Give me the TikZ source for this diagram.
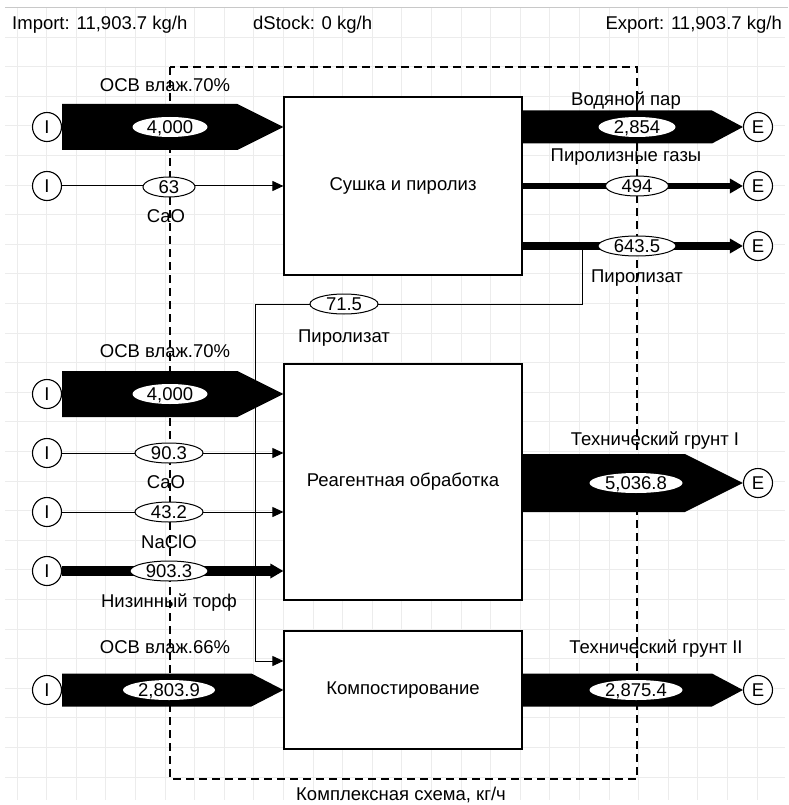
\documentclass[tikz,border=0pt]{standalone}
\usepackage{fontspec}
\setmainfont{Liberation Sans}
\usepackage{tikz}
\usetikzlibrary{arrows.meta, calc, positioning, shapes.geometric}
\definecolor{stanink}{HTML}{000000}
\definecolor{stangrid}{HTML}{ECECEC}
\definecolor{stanrule}{HTML}{C8C8C8}
\newcommand{\stanfont}{\fontsize{18.5}{22}\selectfont}
% fat flow: start point, tip point, half width, head length
\newcommand{\fatflow}[4]{%
  \fill[stanink] ($(#1)+(0,#3)$) -- ($(#2)+(-#4,#3)$) -- (#2)
    -- ($(#2)+(-#4,-#3)$) -- ($(#1)+(0,-#3)$) -- cycle;}
\tikzset{
  gridline/.style={draw=stangrid, line width=0.8pt},
  topline/.style={draw=stanrule, line width=1pt},
  systemline/.style={draw=stanink, line width=1.3pt, dash pattern=on 8pt off 5pt},
  procbox/.style={
    draw=stanink,
    fill=white,
    line width=1.2pt,
    minimum width=238pt,
    inner sep=0pt,
    font=\stanfont
  },
  portnode/.style={
    circle,
    draw=stanink,
    fill=white,
    line width=1.1pt,
    minimum size=29pt,
    inner sep=0pt,
    font=\stanfont
  },
  flowval/.style={
    ellipse,
    draw=stanink,
    fill=white,
    line width=1pt,
    inner sep=0pt,
    text height=13pt,
    text depth=0pt,
    minimum height=20pt,
    minimum width=#1,
    font=\stanfont
  },
  fatval/.style={flowval=#1, draw=none},
  flowlabel/.style={anchor=base, inner sep=0pt, font=\stanfont},
  headtext/.style={inner sep=0pt, font=\stanfont},
  thinflow/.style={
    draw=stanink,
    line width=1pt,
    -{Triangle[length=11pt,width=10pt]}
  },
  thickflow/.style={
    draw=stanink,
    line width=#1,
    -{Triangle[length=13pt,width=14pt]}
  }
}

\begin{document}
\begin{tikzpicture}[x=1pt,y=-1pt]
\useasboundingbox (0,0) rectangle (788,805);

\foreach \gx in {0,...,25}
  \draw[gridline] ({17+29.6*\gx},8) -- ({17+29.6*\gx},800);
\foreach \gy in {1,...,26}
  \draw[gridline] (5,{7.4+29.6*\gy}) -- (785,{7.4+29.6*\gy});
\draw[topline] (5,7.4) -- (788,7.4);

\node[headtext, anchor=base west] (import) at (12,30) {Import: 11,903.7 kg/h};
\node[headtext, anchor=base west] (dstock) at (253,30) {dStock: 0 kg/h};
\node[headtext, anchor=base east] (export) at (782,30) {Export: 11,903.7 kg/h};

\draw[systemline] (170,67) rectangle (637,779);
\node[flowlabel] (system) at (401,800) {Комплексная схема, кг/ч};

\node[procbox, minimum height=178pt] (dry) at (403,186) {Сушка и пиролиз};
\node[procbox, minimum height=236pt] (reag) at (403,482) {Реагентная обработка};
\node[procbox, minimum height=118pt] (comp) at (403,690) {Компостирование};

\node[portnode] (in1) at (47,127) {I};
\node[portnode] (in2) at (47,186) {I};
\node[portnode] (in3) at (47,394) {I};
\node[portnode] (in4) at (47,453) {I};
\node[portnode] (in5) at (47,512) {I};
\node[portnode] (in6) at (47,571) {I};
\node[portnode] (in7) at (47,690) {I};

\node[portnode] (ex1) at (758,127) {E};
\node[portnode] (ex2) at (758,186) {E};
\node[portnode] (ex3) at (758,246) {E};
\node[portnode] (ex4) at (758,483) {E};
\node[portnode] (ex5) at (758,690) {E};

\fatflow{in1.east}{dry.west |- in1}{23}{46}
\fatflow{dry.east |- ex1}{ex1.west}{16.5}{31}
\fatflow{in3.east}{reag.west |- in3}{23}{46}
\fatflow{reag.east |- ex4}{ex4.west}{29}{58}
\fatflow{in7.east}{comp.west |- in7}{16.5}{32}
\fatflow{comp.east |- ex5}{ex5.west}{16.5}{31}

\draw[thinflow] (in2) -- (in2 -| dry.west);
\draw[thickflow=5.7pt] (dry.east |- ex2) -- (ex2);
\draw[thickflow=7.4pt] (dry.east |- ex3) -- (ex3);
\coordinate (pyrobend) at (255,304);
\draw[thinflow] (dry.east |- ex3) -- ++(60,0) |- (pyrobend)
  |- ($(comp.west)+(0,-29)$);
\draw[thinflow] (in4) -- (in4 -| reag.west);
\draw[thinflow] (in5) -- (in5 -| reag.west);
\draw[thickflow=10.4pt] (in6) -- (in6 -| reag.west);

\node[fatval=75pt] (val1) at (170,127) {4,000};
\node[flowval=52pt] (val2) at (169,187) {63};
\node[fatval=77pt] (val3) at (637,127) {2,854};
\node[flowval=63pt] (val4) at (637,186) {494};
\node[flowval=78pt] (val5) at (637,246) {643.5};
\node[flowval=68pt] (val6) at (344,304) {71.5};
\node[fatval=75pt] (val7) at (170,394) {4,000};
\node[flowval=68pt] (val8) at (169,453) {90.3};
\node[flowval=68pt] (val9) at (169,512) {43.2};
\node[flowval=78pt] (val10) at (169,571) {903.3};
\node[fatval=93pt] (val11) at (636,483) {5,036.8};
\node[fatval=92pt] (val12) at (169,690) {2,803.9};
\node[fatval=93pt] (val13) at (636,690) {2,875.4};

\node[flowlabel] (lbl1) at (165,92) {ОСВ влаж.70\%};
\node[flowlabel] (lbl2) at (166,222) {CaO};
\node[flowlabel] (lbl3) at (626,106) {Водяной пар};
\node[flowlabel] (lbl4) at (626,162) {Пиролизные газы};
\node[flowlabel] (lbl5) at (637,282) {Пиролизат};
\node[flowlabel] (lbl6) at (344,342) {Пиролизат};
\node[flowlabel] (lbl7) at (165,357) {ОСВ влаж.70\%};
\node[flowlabel] (lbl8) at (166,488) {CaO};
\node[flowlabel] (lbl9) at (169,548) {NaClO};
\node[flowlabel] (lbl10) at (169,607) {Низинный торф};
\node[flowlabel] (lbl11) at (165,653) {ОСВ влаж.66\%};
\node[flowlabel] (lbl12) at (655,445) {Технический грунт I};
\node[flowlabel] (lbl13) at (656,653) {Технический грунт II};
\end{tikzpicture}
\end{document}
